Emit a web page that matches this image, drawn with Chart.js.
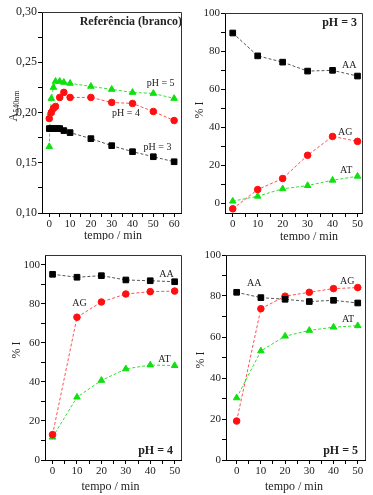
<!DOCTYPE html>
<html>
<head>
<meta charset="utf-8">
<script src="https://cdn.jsdelivr.net/npm/chart.js@4.4.1/dist/chart.umd.min.js"></script>
<style>
  body { margin: 0; background: #fff; width: 373px; height: 495px; position: relative; overflow: hidden; }
  canvas { position: absolute; }
</style>
</head>
<body>
<canvas id="refChart" width="186" height="240" style="left:0;top:0"></canvas>
<canvas id="ph3Chart" width="187" height="240" style="left:186px;top:0"></canvas>
<canvas id="ph4Chart" width="186" height="255" style="left:0;top:240px"></canvas>
<canvas id="ph5Chart" width="187" height="255" style="left:186px;top:240px"></canvas>
<script>
// Referência (branco): absorbância a 540 nm vs tempo
const refTimePH3 = [0, 1, 2, 3, 4, 5, 7, 10, 20, 30, 40, 50, 60]
const refAbsPH3 = [0.184, 0.184, 0.184, 0.184, 0.184, 0.184, 0.182, 0.180, 0.174, 0.167, 0.161, 0.156, 0.151]
const refTimePH4 = [0, 1, 2, 3, 5, 7, 10, 20, 30, 40, 50, 60]
const refAbsPH4 = [0.194, 0.200, 0.204, 0.206, 0.215, 0.220, 0.215, 0.215, 0.210, 0.209, 0.201, 0.192]
const refTimePH5 = [0, 0.5, 1, 2, 3, 5, 7, 10, 20, 30, 40, 50, 60]
const refAbsPH5 = [0.166, 0.200, 0.214, 0.225, 0.231, 0.231, 0.230, 0.229, 0.226, 0.223, 0.220, 0.219, 0.214]

// % inibição (AA, AG, AT) vs tempo
const tempos = [0, 10, 20, 30, 40, 50]
const ph3AA = [89.5, 77.5, 74.2, 69.5, 69.9, 66.9]
const ph3AG = [-2.8, 7.3, 13.1, 25.3, 35.2, 32.6]
const ph3AT = [1.2, 3.8, 7.7, 9.4, 12.2, 14.3]
const ph4AA = [95.2, 93.7, 94.5, 92.3, 91.9, 91.4]
const ph4AG = [13.0, 73.2, 81.0, 85.1, 86.3, 86.6]
const ph4AT = [11.7, 32.2, 40.8, 46.7, 48.7, 48.4]
const ph5AA = [81.8, 79.2, 78.4, 77.3, 77.9, 76.6]
const ph5AG = [19.0, 73.8, 79.9, 81.8, 83.6, 84.1]
const ph5AT = [30.3, 53.2, 60.4, 63.2, 64.8, 65.5]

// eixos
const refXTicks = [0, 10, 20, 30, 40, 50, 60]
const refXMinor = [5, 15, 25, 35, 45, 55]
const refYTicks = [0.10, 0.15, 0.20, 0.25, 0.30]
const refYLabels = ["0,10", "0,15", "0,20", "0,25", "0,30"]
const refYMinor = [0.125, 0.175, 0.225, 0.275]
const pctXTicks = [0, 10, 20, 30, 40, 50]
const pctXMinor = [5, 15, 25, 35, 45]
const pctYTicks = [0, 20, 40, 60, 80, 100]
const pctYMinor = [10, 30, 50, 70, 90]

const SERIF = "'Liberation Serif', 'DejaVu Serif', serif"
const BLACK = "#000000"
const RED = "#ff1010"
const GREEN = "#10e010"

const serie = (t, v, color, line, style, r) => ({
    data: t.map((x, i) => ({ x: x, y: v[i] })),
    borderColor: line,
    borderWidth: 1,
    borderDash: [3, 2],
    tension: 0,
    pointStyle: style,
    pointRadius: r,
    pointBackgroundColor: color,
    pointBorderColor: color,
    pointBorderWidth: 1
})

const tickList = (major, labels, minor) => {
    const list = major.map((v, i) => ({ value: v, lbl: labels[i] }))
    minor.forEach(v => list.push({ value: v, lbl: "" }))
    return list.sort((a, b) => a.value - b.value)
}

// desenha textos, rótulos e moldura
const makeDecor = (texts) => ({
    id: "decor",
    beforeDatasetsDraw(chart) {
        const { ctx, chartArea } = chart
        ctx.save()
        ctx.strokeStyle = "#333"
        ctx.lineWidth = 1
        ctx.beginPath()
        ctx.moveTo(chartArea.left, Math.round(chartArea.top) + 0.5)
        ctx.lineTo(chartArea.right + 0.5, Math.round(chartArea.top) + 0.5)
        ctx.lineTo(Math.round(chartArea.right) + 0.5, chartArea.bottom)
        ctx.stroke()
        ctx.restore()
    },
    afterDraw(chart) {
        const { ctx, scales } = chart
        ctx.save()
        ctx.fillStyle = "#222"
        texts.forEach(t => {
            let x = t.x, y = t.y
            if (t.data) {
                x = scales.x.getPixelForValue(t.x)
                y = scales.y.getPixelForValue(t.y)
            }
            ctx.font = (t.bold ? "bold " : "") + t.size + "px " + SERIF
            ctx.textAlign = t.align || "left"
            ctx.textBaseline = "middle"
            if (t.rotate) {
                ctx.save()
                ctx.translate(x, y)
                ctx.rotate(-Math.PI / 2)
                ctx.textAlign = "center"
                if (t.sub) {
                    // A com subscrito
                    ctx.textAlign = "left"
                    ctx.textBaseline = "alphabetic"
                    const w = ctx.measureText(t.text).width
                    const subFont = "8px " + SERIF
                    ctx.font = subFont
                    const ws = ctx.measureText(t.sub).width
                    const x0 = -(w + ws) / 2
                    ctx.font = t.size + "px " + SERIF
                    ctx.fillText(t.text, x0, 4)
                    ctx.font = subFont
                    ctx.fillText(t.sub, x0 + w, 6)
                } else {
                    ctx.fillText(t.text, 0, 0)
                }
                ctx.restore()
            } else {
                ctx.fillText(t.text, x, y)
            }
        })
        ctx.restore()
    }
})

const buildPanel = (id, cfg) => {
    const xt = tickList(cfg.xMajor, cfg.xMajor.map(String), cfg.xMinor)
    const yt = tickList(cfg.yMajor, cfg.yLabels, cfg.yMinor)
    const axisCommon = (size) => ({
        type: "linear",
        bounds: "data",
        grid: { drawOnChartArea: false, drawTicks: true, tickLength: 4, color: BLACK, tickWidth: 1 },
        border: { display: true, color: BLACK, width: 1 },
        ticks: {
            autoSkip: false,
            maxRotation: 0,
            padding: 1,
            color: "#222",
            font: { family: SERIF, size: size },
            callback: (v, i, ticks) => ticks[i].lbl
        }
    })
    return new Chart(document.getElementById(id), {
        type: "line",
        data: { datasets: cfg.series },
        options: {
            responsive: false,
            animation: false,
            layout: { padding: { left: 0, top: cfg.padTop, right: cfg.padRight, bottom: 0 } },
            plugins: { legend: { display: false }, tooltip: { enabled: false } },
            scales: {
                x: Object.assign(axisCommon(11), {
                    min: cfg.xMin, max: cfg.xMax,
                    afterBuildTicks: ax => { ax.ticks = xt.map(t => ({ ...t })) },
                    afterFit: ax => { ax.height = cfg.xAxisH }
                }),
                y: Object.assign(axisCommon(cfg.yFont || 11), {
                    min: cfg.yMin, max: cfg.yMax,
                    afterBuildTicks: ax => { ax.ticks = yt.map(t => ({ ...t })) },
                    afterFit: ax => { ax.width = cfg.yAxisW }
                })
            }
        },
        plugins: [makeDecor(cfg.texts)]
    })
}

const seriesFor = (t, aa, ag, at) => [
    serie(t, aa, BLACK, "#555", "rect", 4),
    serie(t, ag, RED, "#ff5050", "circle", 3.3),
    serie(t, at, GREEN, "#30e030", "triangle", 3.8)
]

buildPanel("refChart", {
    series: [
        serie(refTimePH3, refAbsPH3, BLACK, "#555", "rect", 4),
        serie(refTimePH4, refAbsPH4, RED, "#ff5050", "circle", 3.3),
        serie(refTimePH5, refAbsPH5, GREEN, "#30e030", "triangle", 3.8)
    ],
    xMin: -3.5, xMax: 63.3, yMin: 0.10, yMax: 0.30,
    xMajor: refXTicks, xMinor: refXMinor,
    yMajor: refYTicks, yLabels: refYLabels, yMinor: refYMinor, yFont: 12,
    padTop: 12, padRight: 3, xAxisH: 27, yAxisW: 42,
    texts: [
        { text: "Referência (branco)", x: 182, y: 22, size: 12, bold: true, align: "right" },
        { text: "pH = 5", x: 46.8, y: 0.2287, data: true, size: 10 },
        { text: "pH = 4", x: 30.2, y: 0.1987, data: true, size: 10 },
        { text: "pH = 3", x: 45.3, y: 0.1657, data: true, size: 10 },
        { text: "tempo / min", x: 113, y: 236, size: 12, align: "center" },
        { text: "A", sub: "540nm", x: 13, y: 106, size: 12, rotate: true }
    ]
})

buildPanel("ph3Chart", {
    series: seriesFor(tempos, ph3AA, ph3AG, ph3AT),
    xMin: -3.1, xMax: 51.8, yMin: -5, yMax: 100,
    xMajor: pctXTicks, xMinor: pctXMinor,
    yMajor: pctYTicks, yLabels: pctYTicks.map(String), yMinor: pctYMinor,
    padTop: 13, padRight: 11, xAxisH: 27, yAxisW: 39,
    texts: [
        { text: "pH = 3", x: 171, y: 23, size: 12, bold: true, align: "right" },
        { text: "AA", x: 43.8, y: 72.7, data: true, size: 10 },
        { text: "AG", x: 42.2, y: 37.3, data: true, size: 10 },
        { text: "AT", x: 43, y: 17.4, data: true, size: 10 },
        { text: "tempo / min", x: 123, y: 237, size: 12, align: "center" },
        { text: "% I", x: 14, y: 110, size: 12, rotate: true }
    ]
})

buildPanel("ph4Chart", {
    series: seriesFor(tempos, ph4AA, ph4AG, ph4AT),
    xMin: -3.1, xMax: 52.6, yMin: 0, yMax: 105.1,
    xMajor: pctXTicks, xMinor: pctXMinor,
    yMajor: pctYTicks, yLabels: pctYTicks.map(String), yMinor: pctYMinor,
    padTop: 15, padRight: 2, xAxisH: 35, yAxisW: 45,
    texts: [
        { text: "pH = 4", x: 173, y: 211, size: 12, bold: true, align: "right" },
        { text: "AA", x: 43.7, y: 95.2, data: true, size: 10 },
        { text: "AG", x: 8.1, y: 80.3, data: true, size: 10 },
        { text: "AT", x: 43.3, y: 51.8, data: true, size: 10 },
        { text: "tempo / min", x: 110.5, y: 247, size: 12, align: "center" },
        { text: "% I", x: 17, y: 110, size: 12, rotate: true }
    ]
})

buildPanel("ph5Chart", {
    series: seriesFor(tempos, ph5AA, ph5AG, ph5AT),
    xMin: -4.4, xMax: 53, yMin: 0, yMax: 100,
    xMajor: pctXTicks, xMinor: pctXMinor,
    yMajor: pctYTicks, yLabels: pctYTicks.map(String), yMinor: pctYMinor,
    padTop: 15, padRight: 8, xAxisH: 35, yAxisW: 40,
    texts: [
        { text: "pH = 5", x: 172, y: 211, size: 12, bold: true, align: "right" },
        { text: "AA", x: 4.3, y: 86.1, data: true, size: 10 },
        { text: "AG", x: 42.7, y: 87.2, data: true, size: 10 },
        { text: "AT", x: 43.5, y: 68.4, data: true, size: 10 },
        { text: "tempo / min", x: 108, y: 247, size: 12, align: "center" },
        { text: "% I", x: 14.7, y: 120, size: 12, rotate: true }
    ]
})
</script>
</body>
</html>
